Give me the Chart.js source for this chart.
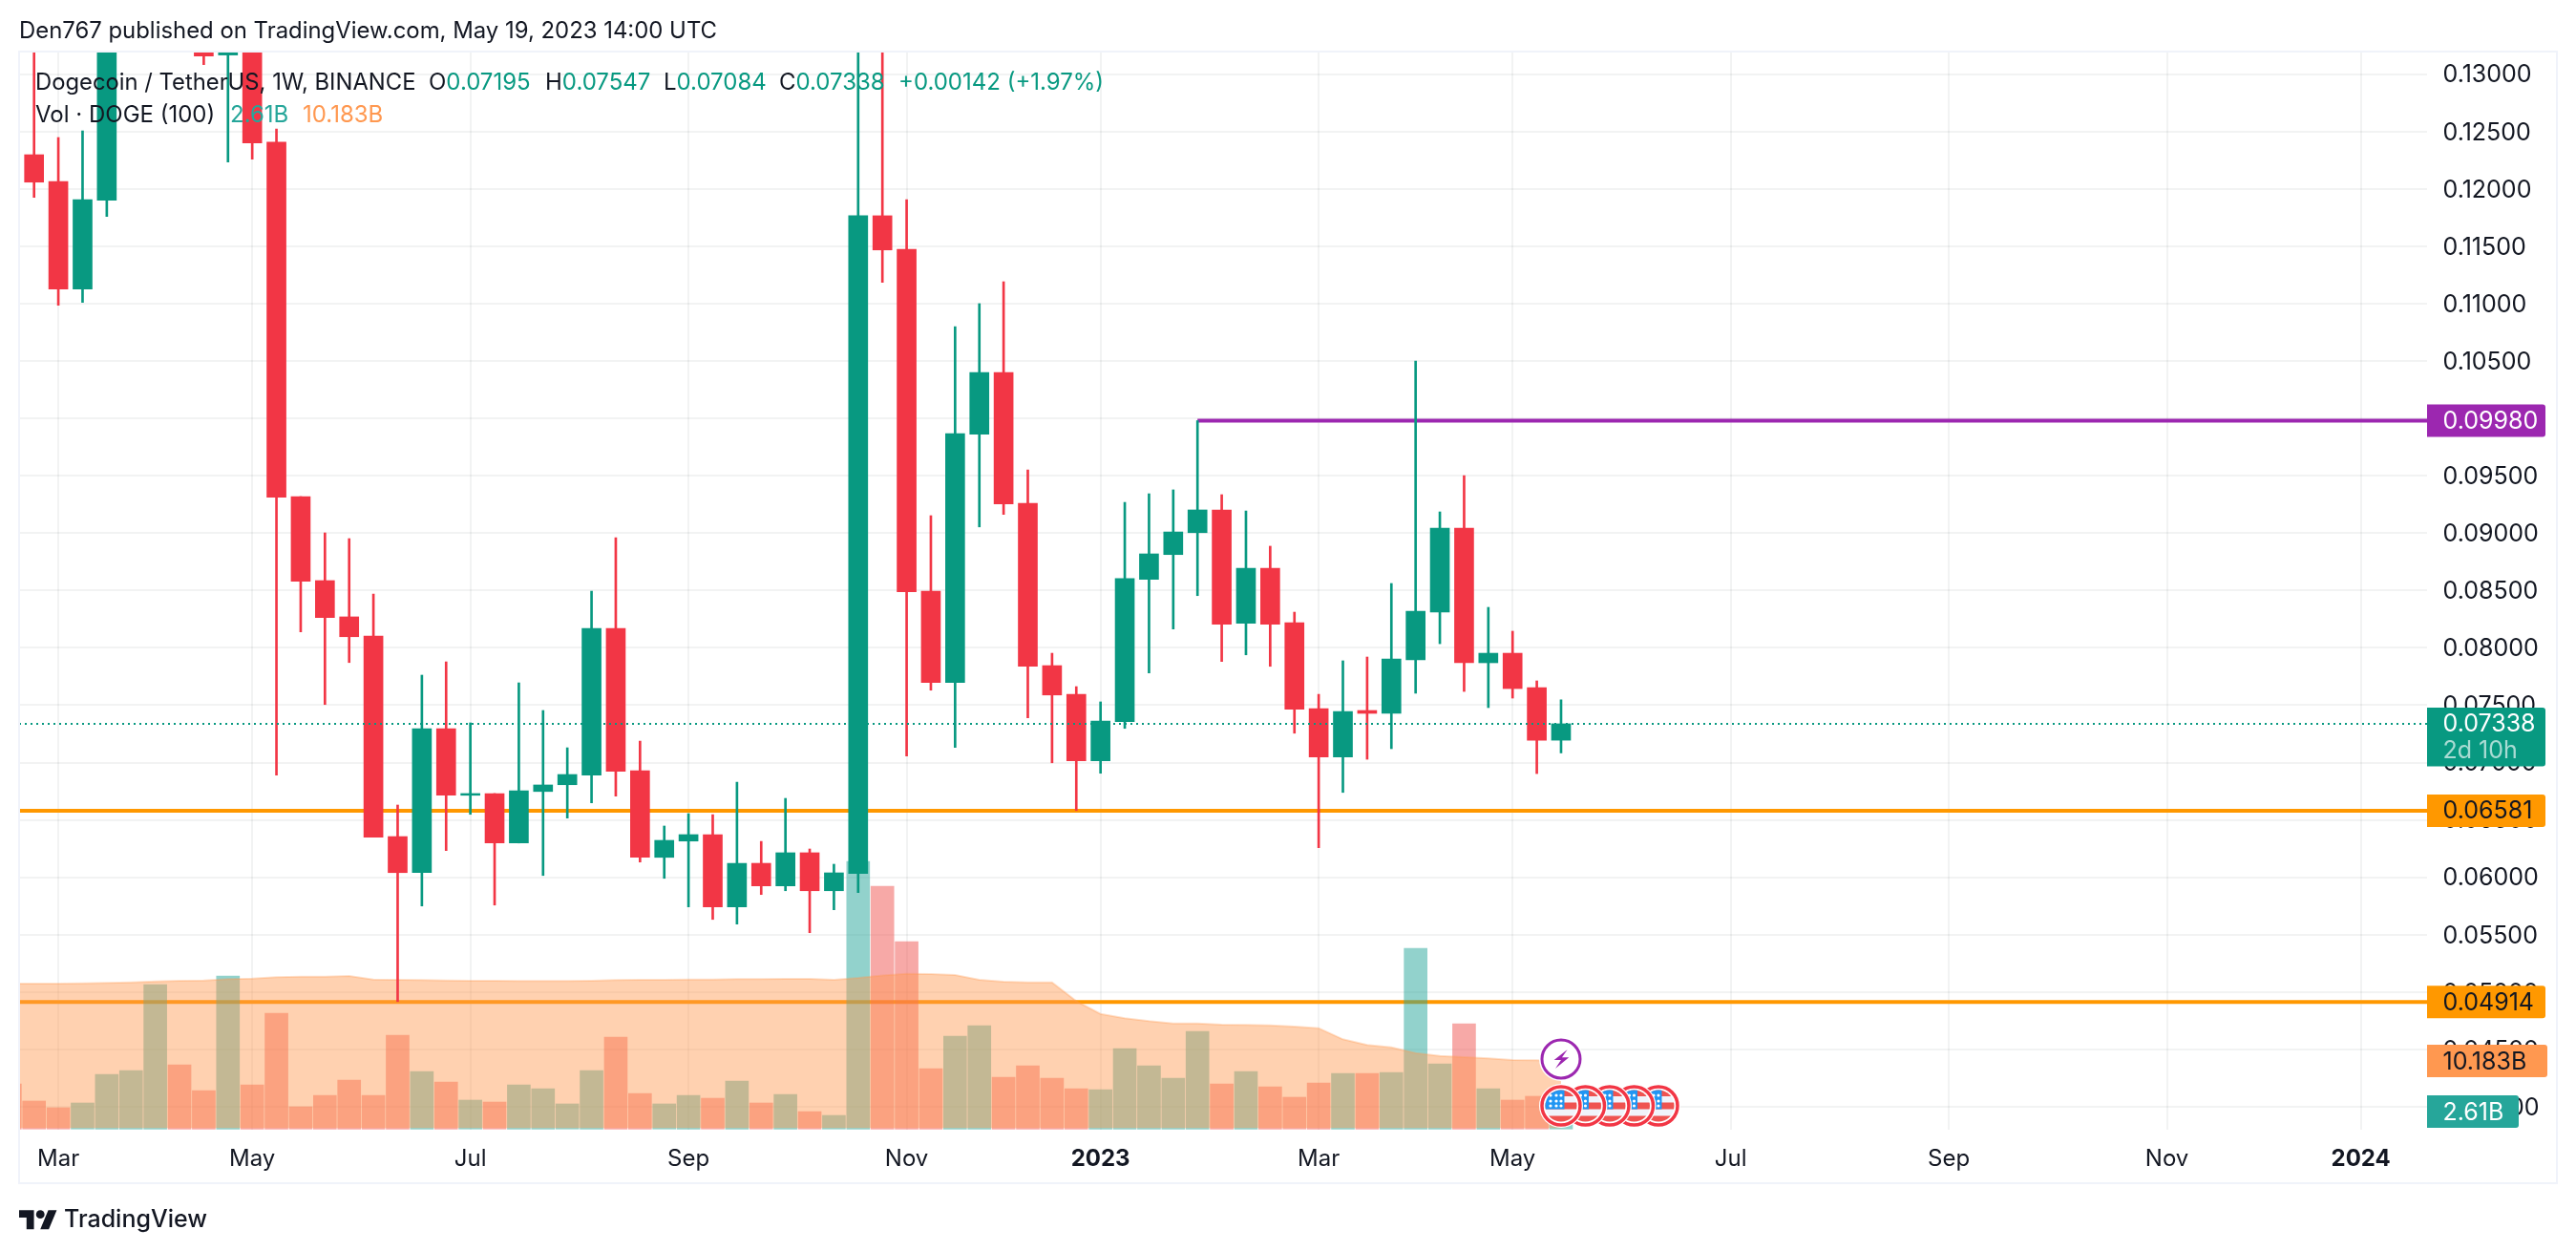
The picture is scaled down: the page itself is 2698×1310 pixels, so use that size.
<!DOCTYPE html>
<html>
<head>
<meta charset="utf-8">
<title>DOGE/USDT 1W</title>
<script src="https://cdn.jsdelivr.net/npm/chart.js@4/dist/chart.umd.js"></script>
<style>
    html, body { margin: 0; padding: 0; background: #fff; }
    #wrap { position: relative; width: 2698px; height: 1310px; overflow: hidden; font-family: Inter, sans-serif; color: #131722; }
    canvas { position: absolute; left: 0; top: 0; }
    .txt { position: absolute; font-size: 24px; line-height: 30px; white-space: nowrap; }
    .up { color: #089981; }
    #logo { position: absolute; left: 20px; top: 1262px; width: 40px; height: 26px; }
</style>
</head>
<body>
<div id="wrap">
    <canvas id="chart" width="2698" height="1310"></canvas>
    <div class="txt" style="left:20px;top:17px;font-size:23.9px">Den767 published on TradingView.com, May 19, 2023 14:00 UTC</div>
    <div class="txt" style="left:37px;top:71px;font-size:23.8px">Dogecoin / TetherUS, 1W, BINANCE</div>
    <div class="txt" style="left:449px;top:71px">O<span class="up">0.07195</span></div>
    <div class="txt" style="left:571px;top:71px">H<span class="up">0.07547</span></div>
    <div class="txt" style="left:695px;top:71px">L<span class="up">0.07084</span></div>
    <div class="txt" style="left:816px;top:71px">C<span class="up">0.07338</span></div>
    <div class="txt up" style="left:941px;top:71px">+0.00142 (+1.97%)</div>
    <div class="txt" style="left:37px;top:105px">Vol · DOGE (100)</div>
    <div class="txt" style="left:241px;top:105px;color:#26a69a">2.61B</div>
    <div class="txt" style="left:317px;top:105px;color:#ff9850">10.183B</div>
    <svg id="logo" viewBox="0 0 36 22"><path fill="#131722" d="M14 22H7V11H0V4h14v18zM28 22h-8l7.5-18h8L28 22z"/><circle fill="#131722" cx="20" cy="8" r="4"/></svg>
    <div class="txt" style="left:67px;top:1261px;font-size:25px;font-weight:500">TradingView</div>
</div>
<script>
// Weekly candles, index 0 is the first visible week. Weeks 4-6 sit above the visible range.
const opens = [0.12298, 0.12065, 0.11127, 0.11901, null, null, null, 0.13400, 0.13167, 0.14000,
    0.12407, 0.09318, 0.08586, 0.08270, 0.08103, 0.06355, 0.06041, 0.07296, 0.06715, 0.06730,
    0.06299, 0.06748, 0.06807, 0.06890, 0.08170, 0.06929, 0.06174, 0.06316, 0.06372, 0.05742,
    0.06122, 0.05925, 0.06214, 0.05883, 0.06033, 0.11766, 0.11474, 0.08494, 0.07698, 0.09862,
    0.10400, 0.09260, 0.07845, 0.07595, 0.07015, 0.07356, 0.08597, 0.08813, 0.09004, 0.09202,
    0.08214, 0.08694, 0.08220, 0.07470, 0.07048, 0.07454, 0.07429, 0.07895, 0.08311, 0.09044,
    0.07870, 0.07953, 0.07654, 0.07195];
const closes = [0.12059, 0.11127, 0.11907, 0.14200, null, null, null, 0.13158, 0.13300, 0.12401,
    0.09313, 0.08580, 0.08264, 0.08097, 0.06349, 0.06041, 0.07296, 0.06715, 0.06730, 0.06299,
    0.06755, 0.06805, 0.06896, 0.08170, 0.06924, 0.06174, 0.06322, 0.06372, 0.05742, 0.06122,
    0.05925, 0.06214, 0.05883, 0.06039, 0.11766, 0.11468, 0.08488, 0.07698, 0.09868, 0.10400,
    0.09254, 0.07839, 0.07589, 0.07015, 0.07362, 0.08603, 0.08819, 0.09010, 0.09202, 0.08205,
    0.08694, 0.08205, 0.07465, 0.07048, 0.07445, 0.07429, 0.07903, 0.08319, 0.09044, 0.07870,
    0.07953, 0.07645, 0.07195, 0.07338];
const highs = [0.13450, 0.12448, 0.12506, 0.14600, null, null, null, 0.13700, 0.13800, 0.14400,
    0.12523, 0.09318, 0.09002, 0.08952, 0.08469, 0.06630, 0.07762, 0.07878, 0.07346, 0.06730,
    0.07695, 0.07454, 0.07129, 0.08494, 0.08960, 0.07187, 0.06447, 0.06555, 0.06546, 0.06829,
    0.06313, 0.06688, 0.06247, 0.06114, 0.15000, 0.15000, 0.11907, 0.09152, 0.10800, 0.11000,
    0.11191, 0.09551, 0.07953, 0.07662, 0.07529, 0.09268, 0.09343, 0.09377, 0.09980, 0.09335,
    0.09193, 0.08886, 0.08311, 0.07595, 0.07887, 0.07920, 0.08561, 0.10500, 0.09185, 0.09501,
    0.08353, 0.08145, 0.07712, 0.07547];
const lows = [0.11926, 0.10986, 0.11011, 0.11760, null, null, null, 0.13083, 0.12234, 0.12259,
    0.06890, 0.08139, 0.07506, 0.07872, 0.06349, 0.04917, 0.05750, 0.06233, 0.06549, 0.05758,
    0.06299, 0.06016, 0.06516, 0.06649, 0.06707, 0.06133, 0.05991, 0.05742, 0.05633, 0.05592,
    0.05850, 0.05883, 0.05517, 0.05717, 0.05866, 0.11185, 0.07057, 0.07631, 0.07132, 0.09054,
    0.09163, 0.07390, 0.06998, 0.06582, 0.06907, 0.07298, 0.07781, 0.08164, 0.08455, 0.07881,
    0.07939, 0.07839, 0.07256, 0.06258, 0.06740, 0.07029, 0.07121, 0.07604, 0.08036, 0.07620,
    0.07479, 0.07562, 0.06904, 0.07084];

// Volume in billions, first value is the week before index 0 (cut by the left edge)
const volumes = [6.76, 4.19, 3.19, 3.90, 8.19, 8.76, 21.61, 9.61, 5.76, 22.90,
    6.61, 17.33, 3.33, 5.04, 7.33, 5.04, 14.04, 8.61, 7.04, 4.33,
    4.04, 6.61, 6.04, 3.76, 8.76, 13.76, 5.33, 3.76, 5.04, 4.61,
    7.19, 3.90, 5.19, 2.61, 2.04, 40.04, 36.33, 28.04, 9.04, 13.90,
    15.47, 7.76, 9.47, 7.61, 6.04, 5.90, 12.04, 9.47, 7.61, 14.61,
    6.76, 8.61, 6.33, 4.76, 6.90, 8.33, 8.33, 8.47, 27.04, 9.76,
    15.76, 6.04, 4.33, 4.90, 2.61];
const volumeUp = [0, 0, 0, 1, 1, 1, 1, 0, 0, 1,
    0, 0, 0, 0, 0, 0, 0, 1, 0, 1,
    0, 1, 1, 1, 1, 0, 0, 1, 1, 0,
    1, 0, 1, 0, 1, 1, 0, 0, 0, 1,
    1, 0, 0, 0, 0, 1, 1, 1, 1, 1,
    0, 1, 0, 0, 0, 1, 0, 1, 1, 1,
    0, 1, 0, 0, 1];
const volumeMA = [21.76, 21.76, 21.76, 21.80, 21.85, 21.95, 22.09, 22.19, 22.23, 22.42,
    22.52, 22.71, 22.80, 22.80, 22.90, 22.38, 22.33, 22.28, 22.23, 22.19,
    22.19, 22.14, 22.14, 22.14, 22.19, 22.28, 22.33, 22.33, 22.38, 22.38,
    22.42, 22.42, 22.47, 22.47, 22.33, 22.61, 22.99, 23.23, 23.19, 23.04,
    22.33, 22.04, 21.95, 21.95, 19.14, 17.23, 16.57, 16.14, 15.80, 15.80,
    15.61, 15.57, 15.52, 15.33, 15.09, 13.43, 12.57, 12.23, 11.38, 10.95,
    10.76, 10.57, 10.33, 10.28, 10.183];

// Axis ticks
const priceTicks = [0.04, 0.045, 0.05, 0.055, 0.06, 0.065, 0.07, 0.075, 0.08, 0.085,
    0.09, 0.095, 0.10, 0.105, 0.11, 0.115, 0.12, 0.125, 0.13];
const timeTickWeeks = [1, 9, 18, 27, 36, 44, 53, 61, 70, 79, 88, 96];
const timeTickLabels = ['Mar', 'May', 'Jul', 'Sep', 'Nov', '2023', 'Mar', 'May', 'Jul', 'Sep', 'Nov', '2024'];

// Levels drawn on the chart
const resistance = 0.0998;
const resistanceStartWeek = 48;
const supportHigh = 0.06581;
const supportLow = 0.04914;
const lastPrice = 0.07338;
const lastVolume = 2.61;
const lastVolumeMA = 10.183;

const GREEN = '#089981';
const RED = '#f23645';
const X_MIN = -0.6185;
const X_MAX = 98.73;

// Build the candle data, skipping the weeks with no visible candle
const wickData = [];
const bodyData = [];
const candleColors = [];
opens.forEach((open, week) => {
    if (open === null) return;
    wickData.push({ x: week, y: [lows[week], highs[week]] });
    bodyData.push({ x: week, y: [open, closes[week]] });
    candleColors.push(closes[week] >= open ? GREEN : RED);
});

const volumeData = volumes.map((v, i) => ({ x: i - 1, y: v }));
const volumeColors = volumeUp.map(up => up ? 'rgba(38, 166, 154, 0.5)' : 'rgba(239, 83, 80, 0.5)');
const maData = volumeMA.map((v, i) => ({ x: i - 1, y: v }));

function levelLine(value, color, order, fromX) {
    return {
        type: 'line',
        data: [{ x: fromX, y: value }, { x: X_MAX, y: value }],
        borderColor: color,
        borderWidth: 4,
        pointRadius: 0,
        yAxisID: 'y',
        order: order
    };
}

// Price tags on the right axis
const tags = [
    { axis: 'y', value: resistance, text: '0.09980', bg: '#9c27b0', fg: '#ffffff', right: 2666 },
    { axis: 'y', value: supportHigh, text: '0.06581', bg: '#ff9800', fg: '#131722', right: 2666 },
    { axis: 'y', value: supportLow, text: '0.04914', bg: '#ff9800', fg: '#131722', right: 2666 },
    { axis: 'y1', value: lastVolumeMA, text: '10.183B', bg: '#ff9850', fg: '#131722', right: 2668 },
    { axis: 'y1', value: lastVolume, text: '2.61B', bg: '#26a69a', fg: '#ffffff', right: 2638 }
];

function tagBox(ctx, left, top, right, bottom, color) {
    ctx.fillStyle = color;
    ctx.beginPath();
    ctx.roundRect(left, top, right - left, bottom - top, [0, 3, 3, 0]);
    ctx.fill();
}

function drawFlag(ctx, x, y) {
    ctx.save();
    ctx.beginPath();
    ctx.arc(x, y, 23, 0, Math.PI * 2);
    ctx.fillStyle = '#fff';
    ctx.fill();
    ctx.beginPath();
    ctx.arc(x, y, 20, 0, Math.PI * 2);
    ctx.strokeStyle = RED;
    ctx.lineWidth = 3.5;
    ctx.stroke();
    ctx.beginPath();
    ctx.arc(x, y, 16.5, 0, Math.PI * 2);
    ctx.clip();
    ctx.fillStyle = '#f0f3fa';
    ctx.fillRect(x - 17, y - 17, 34, 34);
    ctx.fillStyle = '#ef5350';
    ctx.fillRect(x - 17, y - 17, 34, 7);
    ctx.fillRect(x - 17, y - 3.5, 34, 7);
    ctx.fillRect(x - 17, y + 10.5, 34, 7);
    ctx.fillStyle = '#2196f3';
    ctx.fillRect(x - 17, y - 17, 20.5, 20.5);
    ctx.fillStyle = '#fff';
    [-11, -5, 0].forEach(dx => {
        [-11, -5, 0].forEach(dy => {
            ctx.beginPath();
            ctx.arc(x + dx, y + dy, 1.6, 0, Math.PI * 2);
            ctx.fill();
        });
    });
    ctx.restore();
}

function drawBolt(ctx, x, y) {
    ctx.beginPath();
    ctx.arc(x, y, 23, 0, Math.PI * 2);
    ctx.fillStyle = '#fff';
    ctx.fill();
    ctx.beginPath();
    ctx.arc(x, y, 20, 0, Math.PI * 2);
    ctx.strokeStyle = '#9c27b0';
    ctx.lineWidth = 3;
    ctx.stroke();
    ctx.fillStyle = '#9c27b0';
    ctx.beginPath();
    ctx.moveTo(x + 6.7, y - 10);
    ctx.lineTo(x - 7.3, y + 1);
    ctx.lineTo(x, y + 1);
    ctx.lineTo(x - 6, y + 10);
    ctx.lineTo(x + 8.3, y - 1.7);
    ctx.lineTo(x + 1, y - 1.7);
    ctx.closePath();
    ctx.fill();
}

// Frame, price tags and the event icons at the last bar
const overlayPlugin = {
    id: 'overlay',
    afterDraw(chart) {
        const ctx = chart.ctx;
        const area = chart.chartArea;
        const left = area.right;

        ctx.strokeStyle = '#f0f3fa';
        ctx.lineWidth = 2;
        ctx.strokeRect(20, 54, 2658, 1185);

        const lastX = chart.scales.x.getPixelForValue(opens.length - 1);
        const flagY = area.bottom - 25;
        for (let i = 4; i >= 0; i--) {
            drawFlag(ctx, lastX + i * 25.5, flagY);
        }
        drawBolt(ctx, lastX, area.bottom - 74);

        ctx.font = '25px Inter, sans-serif';
        ctx.textBaseline = 'middle';
        ctx.textAlign = 'left';
        tags.forEach(tag => {
            const y = chart.scales[tag.axis].getPixelForValue(tag.value);
            tagBox(ctx, left, y - 17, tag.right, y + 17, tag.bg);
            ctx.fillStyle = tag.fg;
            ctx.fillText(tag.text, left + 16.5, y + 1);
        });

        // Last price has the countdown under it
        const y = chart.scales.y.getPixelForValue(lastPrice);
        tagBox(ctx, left, y - 17, 2666, y + 44.5, GREEN);
        ctx.fillStyle = '#ffffff';
        ctx.fillText('0.07338', left + 16.5, y + 1);
        ctx.fillStyle = 'rgba(255, 255, 255, 0.65)';
        ctx.fillText('2d 10h', left + 16.5, y + 29);
    }
};

new Chart(document.getElementById('chart'), {
    type: 'bar',
    plugins: [overlayPlugin],
    data: {
        datasets: [
            levelLine(resistance, '#9c27b0', 7, resistanceStartWeek),
            levelLine(supportHigh, '#ff9800', 7, X_MIN),
            levelLine(supportLow, '#ff9800', 7, X_MIN),
            {
                data: volumeData,
                backgroundColor: volumeColors,
                barThickness: 24,
                grouped: false,
                yAxisID: 'y1',
                order: 5
            },
            {
                type: 'line',
                data: maData,
                borderColor: 'rgba(255, 152, 80, 0.3)',
                backgroundColor: 'rgba(255, 152, 80, 0.45)',
                borderWidth: 2,
                pointRadius: 0,
                tension: 0,
                fill: { value: 0.15 },
                yAxisID: 'y1',
                order: 4
            },
            {
                data: wickData,
                backgroundColor: candleColors,
                barThickness: 2,
                grouped: false,
                yAxisID: 'y',
                order: 3
            },
            {
                data: bodyData,
                backgroundColor: candleColors,
                barThickness: 20,
                grouped: false,
                yAxisID: 'y',
                order: 2
            },
            {
                type: 'line',
                data: [{ x: X_MIN, y: lastPrice }, { x: X_MAX, y: lastPrice }],
                borderColor: GREEN,
                borderWidth: 2,
                borderDash: [2, 4],
                pointRadius: 0,
                yAxisID: 'y',
                order: 1
            }
        ]
    },
    options: {
        responsive: false,
        animation: false,
        layout: { padding: { left: 20, top: 54, right: 20, bottom: 70 } },
        plugins: {
            legend: { display: false },
            tooltip: { enabled: false }
        },
        scales: {
            x: {
                type: 'linear',
                offset: false,
                min: X_MIN,
                max: X_MAX,
                border: { display: false },
                grid: { offset: false, drawTicks: false, color: 'rgba(42, 46, 57, 0.06)', lineWidth: 2 },
                afterBuildTicks: axis => {
                    axis.ticks = timeTickWeeks.map(w => ({ value: w }));
                },
                afterFit: axis => {
                    axis.height = 57;
                },
                ticks: {
                    autoSkip: false,
                    maxRotation: 0,
                    padding: 16,
                    color: '#131722',
                    font: ctx => ({
                        family: 'Inter, sans-serif',
                        size: 24,
                        weight: ctx.index === 5 || ctx.index === 11 ? 'bold' : 'normal'
                    }),
                    callback: (value, index) => timeTickLabels[index]
                }
            },
            y: {
                position: 'right',
                min: 0.03800,
                max: 0.13197,
                border: { display: false },
                grid: { drawTicks: false, color: 'rgba(42, 46, 57, 0.06)', lineWidth: 2 },
                afterBuildTicks: axis => {
                    axis.ticks = priceTicks.map(v => ({ value: v }));
                },
                afterFit: axis => {
                    axis.width = 136;
                },
                ticks: {
                    padding: 16.5,
                    labelOffset: 1.3,
                    color: '#131722',
                    font: { family: 'Inter, sans-serif', size: 25 },
                    callback: value => value.toFixed(5)
                }
            },
            // Volume overlay, same pane with its own hidden scale
            y1: {
                display: false,
                position: 'right',
                min: -0.1,
                max: 161.2,
                grid: { display: false }
            }
        }
    }
});
</script>
</body>
</html>
